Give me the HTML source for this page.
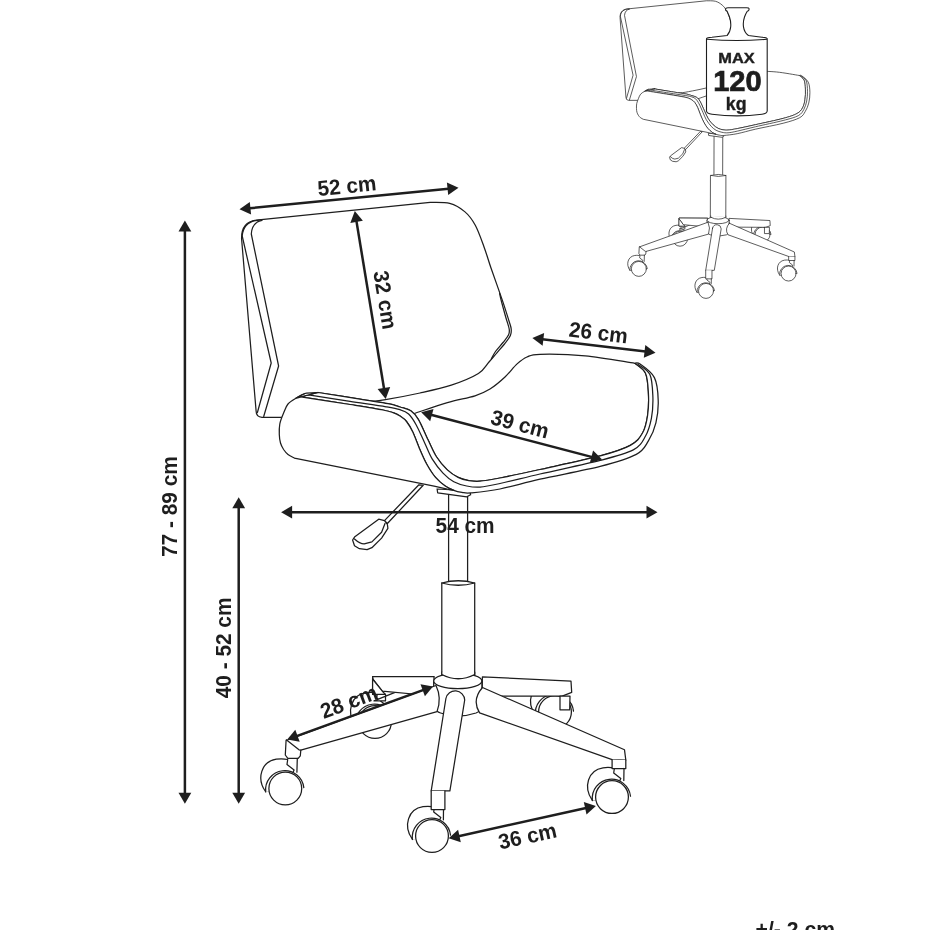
<!DOCTYPE html>
<html><head><meta charset="utf-8"><style>
html,body{margin:0;padding:0;background:#fff;overflow:hidden;}
svg{will-change:transform;}
svg{display:block;}
text{font-family:"Liberation Sans",sans-serif;font-weight:bold;fill:#1e1e1e;}
</style></head><body>
<svg width="930" height="930" viewBox="0 0 930 930">
<rect width="930" height="930" fill="#fff"/>
<g fill="#fff" stroke="#1e1e1e" stroke-width="1.25" stroke-linejoin="round" stroke-linecap="round">
<g transform="translate(375,722)"><path d="M -19.8,3 C -29,-10 -24,-27 -9,-29.3 C -4,-30 0,-29.5 2.4,-29 L 1.7,-24.1 L 8.8,-18.6 L 0,0 Z"/><path d="M -19.6,3.5 A 18.2 18.2 0 0 1 18.5,-0.9"/><circle cx="0" cy="0" r="16.4"/></g>
<g transform="translate(555,712)"><path d="M -19.8,3 C -29,-10 -24,-27 -9,-29.3 C -4,-30 0,-29.5 2.4,-29 L 1.7,-24.1 L 8.8,-18.6 L 0,0 Z"/><path d="M -19.6,3.5 A 18.2 18.2 0 0 1 18.5,-0.9"/><circle cx="0" cy="0" r="16.4"/></g>
<path d="M 434,676.7 L 372.6,676.7 L 372.6,694.4 L 385.5,694.4 L 385.5,700.9 L 374,700.9 Z" fill="#fff"/>
<path d="M 434,676.7 L 372.6,676.7 L 373.1,679.4 L 382.3,691.2 L 434,696 Z" fill="#fff"/>
<path d="M 372.6,679 L 372.6,694.4 L 385.5,694.4 L 382.3,691.2 Z" fill="#fff"/>
<path d="M 482.4,676.9 L 571,681.2 L 571.7,692.4 L 562.2,696.1 L 482,696 Z" fill="#fff"/>
<path d="M 560,696 L 570,696 L 569.7,709.8 L 560,709.8 Z" fill="#fff"/>
<path d="M 448.6,470 L 448.6,584 L 467.6,584 L 467.6,470 Z" fill="#fff"/>
<path d="M 441.8,583 Q 458.2,578.5 474.7,583 L 474.7,676 L 441.8,676 Z" fill="#fff"/>
<path d="M 441.7,583 Q 458.2,587.5 474.7,583" fill="#fff"/>
<path d="M 433.7,681 L 433.7,706 Q 436,712 440.6,713 Q 458,719 476,713 Q 481,711 481.9,706 L 481.9,681 Z" fill="#fff"/>
<ellipse cx="457.8" cy="681" rx="24.1" ry="7.7"/>
<path d="M 441.8,672 L 441.8,674.5 Q 458.2,683 474.7,674.5 L 474.7,672" fill="#fff"/>
<g transform="translate(285.3,788.5)"><path d="M -19.8,3 C -29,-10 -24,-27 -9,-29.3 C -4,-30 0,-29.5 2.4,-29 L 1.7,-24.1 L 8.8,-18.6 L 0,0 Z"/><path d="M -19.6,3.5 A 18.2 18.2 0 0 1 18.5,-0.9"/><circle cx="0" cy="0" r="16.4"/></g>
<path d="M 436,685.5 L 287.4,740 L 286.1,740 L 285.3,755 L 287.8,758.4 L 298.2,758.4 L 300.3,755.8 L 300.8,750.2 L 437,711.6 Q 442,698 436,685.5 Z" fill="#fff"/>
<path d="M 286.6,740 L 299,749.8 L 300.8,750.2" fill="none"/>
<path d="M 297.3,758.4 L 296.9,772.2" fill="none"/>
<g transform="translate(612,797.1)"><path d="M -19.8,3 C -29,-10 -24,-27 -9,-29.3 C -4,-30 0,-29.5 2.4,-29 L 1.7,-24.1 L 8.8,-18.6 L 0,0 Z"/><path d="M -19.6,3.5 A 18.2 18.2 0 0 1 18.5,-0.9"/><circle cx="0" cy="0" r="16.4"/></g>
<path d="M 482.5,687.5 L 624.5,749.8 L 625.8,760 L 612.1,759.7 L 479.6,712.8 Q 471.5,700 482.5,687.5 Z" fill="#fff"/>
<path d="M 612.1,759.7 L 612.1,768.5 L 625.8,768.5 L 625.8,760" fill="#fff"/>
<path d="M 624,768.5 L 623.8,780.5" fill="none"/>
<g transform="translate(432,836)"><path d="M -19.8,3 C -29,-10 -24,-27 -9,-29.3 C -4,-30 0,-29.5 2.4,-29 L 1.7,-24.1 L 8.8,-18.6 L 0,0 Z"/><path d="M -19.6,3.5 A 18.2 18.2 0 0 1 18.5,-0.9"/><circle cx="0" cy="0" r="16.4"/></g>
<path d="M 445.9,698.5 L 431.2,790.9 L 449.9,790.9 L 464.7,700 A 9.5 9.5 0 0 0 445.9,698.5 Z" fill="#fff"/>
<path d="M 431.2,790.9 L 431.2,809.6 L 444.9,809.6 L 444.9,790.9" fill="#fff"/>
<path d="M 443.5,809.6 L 443.4,819.8" fill="none"/>
<path d="M 418.9,484.8 L 384.5,520.6 L 387.4,523.5 L 423.2,485.3 Z" fill="#fff"/>
<path d="M 384.5,520.6 L 378.7,519.2 L 354.5,537.1 L 352.6,540 L 354.5,545.8 L 359.4,548.7 L 367.1,549.7 L 371.9,547.7 L 381.6,538.1 L 387.9,528.4 L 387.4,524.5 Z" fill="#fff"/>
<path d="M 354.5,539 Q 360,544 364.2,543.9 L 371.9,541.9 L 381.6,532.3 L 385,523.5" fill="none"/>
<path d="M 437.1,489 L 437.7,492.9 L 466.8,496.8 L 470.6,494.8 L 470,491 Z" fill="#fff"/>
<path d="M 370,401.6 L 300,410 L 282.4,417.3 L 262,417.3 Q 256.2,417 256.1,411 L 241.6,239 C 241.3,228 246,221.5 256.3,220.2 L 430.1,202.3 C 433.4,202.5 443.9,201.8 449.7,203.3 C 455.5,204.9 460.4,207.9 464.7,211.6 C 469.0,215.2 472.0,219.2 475.3,225.2 C 478.6,231.2 481.7,240.6 484.3,247.7 C 486.9,254.8 488.0,259.3 491.0,268.0 C 494.0,276.7 499.3,291.3 502.3,300.1 C 505.3,308.9 507.5,316.2 509.0,321.0 C 510.5,325.8 511.0,326.6 511.2,329.0 C 511.4,331.4 511.5,333.0 510.4,335.5 C 509.3,338.0 506.8,341.1 504.5,344.0 C 502.2,346.9 499.5,349.8 496.9,352.8 C 494.3,355.8 492.1,358.6 489.0,362.0 C 485.9,365.4 484.7,369.6 478.4,373.5 C 472.1,377.4 461.0,381.9 451.3,385.2 C 441.6,388.4 431.0,390.6 420.0,393.0 C 409.0,395.4 393.8,398.3 385.5,399.7 C 377.2,401.1 372.6,401.3 370.0,401.6 Z" fill="#fff"/>
<path d="M 261,219.8 C 249,220.5 243,226 242.2,236 L 271.2,363 L 257.4,412.5" fill="none"/>
<path d="M 262,220.4 C 256,221.5 251.8,226 251.3,234 L 278.6,366 L 263.7,416.5" fill="none"/>
<path d="M 499.6,293.5 C 499.9,294.9 500.5,297.9 501.6,302.0 C 502.7,306.1 504.7,313.5 506.0,318.0 C 507.3,322.5 508.8,326.2 509.2,329.0 C 509.6,331.8 509.6,332.6 508.6,334.8 C 507.6,337.1 505.2,339.7 503.0,342.5 C 500.8,345.3 497.4,348.8 495.5,351.5 C 493.6,354.2 492.0,357.8 491.3,359.0 " fill="none"/>
<path d="M 414.0,413.6 C 419.6,411.8 437.2,405.6 447.4,402.6 C 457.6,399.6 467.9,398.1 475.0,395.8 C 482.1,393.5 485.0,392.1 490.0,389.0 C 495.0,385.9 500.5,381.2 505.0,377.0 C 509.5,372.8 513.4,367.2 517.1,363.9 C 520.8,360.6 523.2,358.6 527.0,357.0 C 530.8,355.4 530.3,354.5 540.0,354.3 C 549.7,354.1 569.4,354.3 585.2,355.8 C 601.0,357.3 626.5,362.1 634.8,363.3  C 636.6,364.9 643.1,368.2 645.4,373.1 C 647.7,378.0 648.0,385.7 648.4,392.7 C 648.8,399.7 648.6,408.5 647.6,415.3 C 646.6,422.1 645.3,428.3 642.4,433.3 C 639.5,438.3 637.3,441.6 630.3,445.4 C 623.3,449.2 615.2,451.9 600.2,455.9 C 585.2,459.9 556.7,465.8 540.0,469.5 C 523.3,473.2 510.0,476.1 500.0,478.0 C 490.0,479.9 485.2,480.8 480.0,481.2 C 474.8,481.6 472.4,481.2 468.8,480.6 C 465.2,480.0 461.7,479.2 458.1,477.4 C 454.5,475.6 450.9,473.3 447.3,469.9 C 443.7,466.5 439.8,462.0 436.6,457.0 C 433.4,452.0 431.1,446.1 428.0,439.8 C 424.9,433.5 421.2,424.2 418.3,419.4 C 415.4,414.6 413.9,412.9 410.8,410.8 C 407.8,408.7 403.8,408.2 400.0,407.0 C 396.2,405.8 394.7,404.9 388.0,403.6 C 381.3,402.3 371.7,401.1 360.0,399.2 C 348.3,397.3 325.0,393.6 318.0,392.5  Z" fill="#fff"/>
<path d="M 318.0,392.5 C 325.0,393.6 348.3,397.3 360.0,399.2 C 371.7,401.1 381.3,402.3 388.0,403.6 C 394.7,404.9 396.2,405.8 400.0,407.0 C 403.8,408.2 407.8,408.7 410.8,410.8 C 413.9,412.9 415.4,414.6 418.3,419.4 C 421.2,424.2 424.9,433.5 428.0,439.8 C 431.1,446.1 433.4,452.0 436.6,457.0 C 439.8,462.0 443.7,466.5 447.3,469.9 C 450.9,473.3 454.5,475.6 458.1,477.4 C 461.7,479.2 465.2,480.0 468.8,480.6 C 472.4,481.2 474.8,481.6 480.0,481.2 C 485.2,480.8 490.0,479.9 500.0,478.0 C 510.0,476.1 523.3,473.2 540.0,469.5 C 556.7,465.8 585.2,459.9 600.2,455.9 C 615.2,451.9 623.3,449.2 630.3,445.4 C 637.3,441.6 639.5,438.3 642.4,433.3 C 645.3,428.3 646.6,422.1 647.6,415.3 C 648.6,408.5 648.8,399.7 648.4,392.7 C 648.0,385.7 647.7,378.0 645.4,373.1 C 643.1,368.2 636.6,364.9 634.8,363.3  L 634.8,363.3 C 635.7,363.4 636.8,361.7 640.1,364.1 C 643.4,366.5 651.4,371.6 654.4,377.6 C 657.4,383.6 658.0,392.7 658.2,400.2 C 658.5,407.7 657.5,416.0 655.9,422.8 C 654.3,429.6 651.7,435.6 648.4,440.9 C 645.1,446.2 644.3,450.1 636.3,454.4 C 628.3,458.6 616.2,462.3 600.2,466.4 C 584.2,470.5 556.7,475.4 540.0,479.2 C 523.3,483.0 511.6,486.7 500.0,489.0 C 488.4,491.3 476.9,492.3 470.6,492.9 C 464.3,493.4 464.8,492.7 462.0,492.3 C 459.2,491.9 456.6,491.4 453.8,490.3 C 451.0,489.2 448.2,488.1 445.2,486.0 C 442.1,483.9 438.6,481.0 435.5,477.4 C 432.4,473.8 429.6,469.3 426.9,464.5 C 424.2,459.7 421.7,453.8 419.4,448.4 C 417.1,443.0 415.0,436.8 412.9,432.3 C 410.8,427.8 408.6,424.2 406.5,421.5 C 404.4,418.8 402.2,417.6 400.0,416.1 C 397.8,414.6 395.8,413.6 393.0,412.6 C 390.2,411.6 390.2,411.4 383.0,410.0 C 375.8,408.6 363.7,406.7 350.0,404.5 C 336.3,402.3 309.0,398.1 300.8,396.8  Z" fill="#fff"/>
<path d="M 307.0,394.7 C 314.2,395.8 336.8,399.4 350.0,401.4 C 363.2,403.4 377.7,405.4 386.0,406.8 C 394.3,408.2 396.2,408.5 400.0,409.7 C 403.8,410.9 405.9,411.5 408.6,414.0 C 411.3,416.5 413.4,419.9 416.1,424.7 C 418.8,429.5 422.0,437.3 424.7,443.0 C 427.4,448.7 429.2,454.1 432.3,459.1 C 435.4,464.1 439.4,469.3 443.0,473.1 C 446.6,476.9 449.9,479.6 453.8,481.7 C 457.8,483.8 462.3,485.1 466.7,486.0 C 471.1,486.9 474.4,487.5 480.0,487.1 C 485.6,486.7 490.0,485.7 500.0,483.5 C 510.0,481.3 523.3,477.9 540.0,474.0 C 556.7,470.1 584.7,464.4 600.2,460.4 C 615.8,456.4 625.8,453.9 633.3,449.9 C 640.8,445.9 642.4,441.6 645.4,436.3 C 648.4,431.0 650.1,424.8 651.4,418.3 C 652.6,411.8 653.1,404.5 652.9,397.2 C 652.6,389.9 652.4,380.1 649.9,374.6 C 647.4,369.1 639.8,365.9 637.8,364.1 " fill="none"/>
<path d="M 318.0,392.5 C 315.8,392.7 308.6,392.6 305.0,393.5 C 301.4,394.4 299.3,396.1 296.5,397.9 C 293.7,399.6 290.1,401.5 288.0,404.0 C 285.9,406.5 285.0,409.7 283.6,413.0 C 282.2,416.3 280.5,420.4 279.8,424.0 C 279.1,427.6 279.2,431.3 279.3,434.5 C 279.4,437.7 279.8,440.5 280.5,443.0 C 281.2,445.5 282.4,447.6 283.6,449.5 C 284.9,451.4 286.2,453.1 288.0,454.5 C 289.8,455.9 293.3,457.5 294.4,458.1  L 434.1,486.1 L 447.3,489.2 L 453.8,490.3 C 452.4,489.6 448.2,488.1 445.2,486.0 C 442.1,483.9 438.6,481.0 435.5,477.4 C 432.4,473.8 429.6,469.3 426.9,464.5 C 424.2,459.7 421.7,453.8 419.4,448.4 C 417.1,443.0 415.0,436.8 412.9,432.3 C 410.8,427.8 408.6,424.2 406.5,421.5 C 404.4,418.8 402.2,417.6 400.0,416.1 C 397.8,414.6 395.8,413.6 393.0,412.6 C 390.2,411.6 390.2,411.4 383.0,410.0 C 375.8,408.6 363.7,406.7 350.0,404.5 C 336.3,402.3 309.0,398.1 300.8,396.8  Z" fill="#fff"/>
<path d="M 305.0,393.5 C 303.6,394.2 297.2,397.3 296.5,397.9 C 295.8,398.4 300.1,397.0 300.8,396.8 " fill="none"/>
</g>
<g fill="#fff" stroke="#222" stroke-width="1.6" stroke-linejoin="round" stroke-linecap="round" transform="matrix(0.45831,0.002257,-0.00125,0.45655,509.08,-91.746)">
<g transform="translate(375,722)"><path d="M -19.8,3 C -29,-10 -24,-27 -9,-29.3 C -4,-30 0,-29.5 2.4,-29 L 1.7,-24.1 L 8.8,-18.6 L 0,0 Z"/><path d="M -19.6,3.5 A 18.2 18.2 0 0 1 18.5,-0.9"/><circle cx="0" cy="0" r="16.4"/></g>
<g transform="translate(555,712)"><path d="M -19.8,3 C -29,-10 -24,-27 -9,-29.3 C -4,-30 0,-29.5 2.4,-29 L 1.7,-24.1 L 8.8,-18.6 L 0,0 Z"/><path d="M -19.6,3.5 A 18.2 18.2 0 0 1 18.5,-0.9"/><circle cx="0" cy="0" r="16.4"/></g>
<path d="M 434,676.7 L 372.6,676.7 L 372.6,694.4 L 385.5,694.4 L 385.5,700.9 L 374,700.9 Z" fill="#fff"/>
<path d="M 434,676.7 L 372.6,676.7 L 373.1,679.4 L 382.3,691.2 L 434,696 Z" fill="#fff"/>
<path d="M 372.6,679 L 372.6,694.4 L 385.5,694.4 L 382.3,691.2 Z" fill="#fff"/>
<path d="M 482.4,676.9 L 571,681.2 L 571.7,692.4 L 562.2,696.1 L 482,696 Z" fill="#fff"/>
<path d="M 560,696 L 570,696 L 569.7,709.8 L 560,709.8 Z" fill="#fff"/>
<path d="M 448.6,470 L 448.6,584 L 467.6,584 L 467.6,470 Z" fill="#fff"/>
<path d="M 441.8,583 Q 458.2,578.5 474.7,583 L 474.7,676 L 441.8,676 Z" fill="#fff"/>
<path d="M 441.7,583 Q 458.2,587.5 474.7,583" fill="#fff"/>
<path d="M 433.7,681 L 433.7,706 Q 436,712 440.6,713 Q 458,719 476,713 Q 481,711 481.9,706 L 481.9,681 Z" fill="#fff"/>
<ellipse cx="457.8" cy="681" rx="24.1" ry="7.7"/>
<path d="M 441.8,672 L 441.8,674.5 Q 458.2,683 474.7,674.5 L 474.7,672" fill="#fff"/>
<g transform="translate(285.3,788.5)"><path d="M -19.8,3 C -29,-10 -24,-27 -9,-29.3 C -4,-30 0,-29.5 2.4,-29 L 1.7,-24.1 L 8.8,-18.6 L 0,0 Z"/><path d="M -19.6,3.5 A 18.2 18.2 0 0 1 18.5,-0.9"/><circle cx="0" cy="0" r="16.4"/></g>
<path d="M 436,685.5 L 287.4,740 L 286.1,740 L 285.3,755 L 287.8,758.4 L 298.2,758.4 L 300.3,755.8 L 300.8,750.2 L 437,711.6 Q 442,698 436,685.5 Z" fill="#fff"/>
<path d="M 286.6,740 L 299,749.8 L 300.8,750.2" fill="none"/>
<path d="M 297.3,758.4 L 296.9,772.2" fill="none"/>
<g transform="translate(612,797.1)"><path d="M -19.8,3 C -29,-10 -24,-27 -9,-29.3 C -4,-30 0,-29.5 2.4,-29 L 1.7,-24.1 L 8.8,-18.6 L 0,0 Z"/><path d="M -19.6,3.5 A 18.2 18.2 0 0 1 18.5,-0.9"/><circle cx="0" cy="0" r="16.4"/></g>
<path d="M 482.5,687.5 L 624.5,749.8 L 625.8,760 L 612.1,759.7 L 479.6,712.8 Q 471.5,700 482.5,687.5 Z" fill="#fff"/>
<path d="M 612.1,759.7 L 612.1,768.5 L 625.8,768.5 L 625.8,760" fill="#fff"/>
<path d="M 624,768.5 L 623.8,780.5" fill="none"/>
<g transform="translate(432,836)"><path d="M -19.8,3 C -29,-10 -24,-27 -9,-29.3 C -4,-30 0,-29.5 2.4,-29 L 1.7,-24.1 L 8.8,-18.6 L 0,0 Z"/><path d="M -19.6,3.5 A 18.2 18.2 0 0 1 18.5,-0.9"/><circle cx="0" cy="0" r="16.4"/></g>
<path d="M 445.9,698.5 L 431.2,790.9 L 449.9,790.9 L 464.7,700 A 9.5 9.5 0 0 0 445.9,698.5 Z" fill="#fff"/>
<path d="M 431.2,790.9 L 431.2,809.6 L 444.9,809.6 L 444.9,790.9" fill="#fff"/>
<path d="M 443.5,809.6 L 443.4,819.8" fill="none"/>
</g>
<g fill="#fff" stroke="#222" stroke-width="1.6" stroke-linejoin="round" stroke-linecap="round" transform="matrix(0.45732,0.000432,-0.00423,0.46351,510.58,-93.18)">
<path d="M 418.9,484.8 L 384.5,520.6 L 387.4,523.5 L 423.2,485.3 Z" fill="#fff"/>
<path d="M 384.5,520.6 L 378.7,519.2 L 354.5,537.1 L 352.6,540 L 354.5,545.8 L 359.4,548.7 L 367.1,549.7 L 371.9,547.7 L 381.6,538.1 L 387.9,528.4 L 387.4,524.5 Z" fill="#fff"/>
<path d="M 354.5,539 Q 360,544 364.2,543.9 L 371.9,541.9 L 381.6,532.3 L 385,523.5" fill="none"/>
<path d="M 437.1,489 L 437.7,492.9 L 466.8,496.8 L 470.6,494.8 L 470,491 Z" fill="#fff"/>
<path d="M 370,401.6 L 300,410 L 282.4,417.3 L 262,417.3 Q 256.2,417 256.1,411 L 241.6,239 C 241.3,228 246,221.5 256.3,220.2 L 430.1,202.3 C 433.4,202.5 443.9,201.8 449.7,203.3 C 455.5,204.9 460.4,207.9 464.7,211.6 C 469.0,215.2 472.0,219.2 475.3,225.2 C 478.6,231.2 481.7,240.6 484.3,247.7 C 486.9,254.8 488.0,259.3 491.0,268.0 C 494.0,276.7 499.3,291.3 502.3,300.1 C 505.3,308.9 507.5,316.2 509.0,321.0 C 510.5,325.8 511.0,326.6 511.2,329.0 C 511.4,331.4 511.5,333.0 510.4,335.5 C 509.3,338.0 506.8,341.1 504.5,344.0 C 502.2,346.9 499.5,349.8 496.9,352.8 C 494.3,355.8 492.1,358.6 489.0,362.0 C 485.9,365.4 484.7,369.6 478.4,373.5 C 472.1,377.4 461.0,381.9 451.3,385.2 C 441.6,388.4 431.0,390.6 420.0,393.0 C 409.0,395.4 393.8,398.3 385.5,399.7 C 377.2,401.1 372.6,401.3 370.0,401.6 Z" fill="#fff"/>
<path d="M 261,219.8 C 249,220.5 243,226 242.2,236 L 271.2,363 L 257.4,412.5" fill="none"/>
<path d="M 262,220.4 C 256,221.5 251.8,226 251.3,234 L 278.6,366 L 263.7,416.5" fill="none"/>
<path d="M 499.6,293.5 C 499.9,294.9 500.5,297.9 501.6,302.0 C 502.7,306.1 504.7,313.5 506.0,318.0 C 507.3,322.5 508.8,326.2 509.2,329.0 C 509.6,331.8 509.6,332.6 508.6,334.8 C 507.6,337.1 505.2,339.7 503.0,342.5 C 500.8,345.3 497.4,348.8 495.5,351.5 C 493.6,354.2 492.0,357.8 491.3,359.0 " fill="none"/>
<path d="M 414.0,413.6 C 419.6,411.8 437.2,405.6 447.4,402.6 C 457.6,399.6 467.9,398.1 475.0,395.8 C 482.1,393.5 485.0,392.1 490.0,389.0 C 495.0,385.9 500.5,381.2 505.0,377.0 C 509.5,372.8 513.4,367.2 517.1,363.9 C 520.8,360.6 523.2,358.6 527.0,357.0 C 530.8,355.4 530.3,354.5 540.0,354.3 C 549.7,354.1 569.4,354.3 585.2,355.8 C 601.0,357.3 626.5,362.1 634.8,363.3  C 636.6,364.9 643.1,368.2 645.4,373.1 C 647.7,378.0 648.0,385.7 648.4,392.7 C 648.8,399.7 648.6,408.5 647.6,415.3 C 646.6,422.1 645.3,428.3 642.4,433.3 C 639.5,438.3 637.3,441.6 630.3,445.4 C 623.3,449.2 615.2,451.9 600.2,455.9 C 585.2,459.9 556.7,465.8 540.0,469.5 C 523.3,473.2 510.0,476.1 500.0,478.0 C 490.0,479.9 485.2,480.8 480.0,481.2 C 474.8,481.6 472.4,481.2 468.8,480.6 C 465.2,480.0 461.7,479.2 458.1,477.4 C 454.5,475.6 450.9,473.3 447.3,469.9 C 443.7,466.5 439.8,462.0 436.6,457.0 C 433.4,452.0 431.1,446.1 428.0,439.8 C 424.9,433.5 421.2,424.2 418.3,419.4 C 415.4,414.6 413.9,412.9 410.8,410.8 C 407.8,408.7 403.8,408.2 400.0,407.0 C 396.2,405.8 394.7,404.9 388.0,403.6 C 381.3,402.3 371.7,401.1 360.0,399.2 C 348.3,397.3 325.0,393.6 318.0,392.5  Z" fill="#fff"/>
<path d="M 318.0,392.5 C 325.0,393.6 348.3,397.3 360.0,399.2 C 371.7,401.1 381.3,402.3 388.0,403.6 C 394.7,404.9 396.2,405.8 400.0,407.0 C 403.8,408.2 407.8,408.7 410.8,410.8 C 413.9,412.9 415.4,414.6 418.3,419.4 C 421.2,424.2 424.9,433.5 428.0,439.8 C 431.1,446.1 433.4,452.0 436.6,457.0 C 439.8,462.0 443.7,466.5 447.3,469.9 C 450.9,473.3 454.5,475.6 458.1,477.4 C 461.7,479.2 465.2,480.0 468.8,480.6 C 472.4,481.2 474.8,481.6 480.0,481.2 C 485.2,480.8 490.0,479.9 500.0,478.0 C 510.0,476.1 523.3,473.2 540.0,469.5 C 556.7,465.8 585.2,459.9 600.2,455.9 C 615.2,451.9 623.3,449.2 630.3,445.4 C 637.3,441.6 639.5,438.3 642.4,433.3 C 645.3,428.3 646.6,422.1 647.6,415.3 C 648.6,408.5 648.8,399.7 648.4,392.7 C 648.0,385.7 647.7,378.0 645.4,373.1 C 643.1,368.2 636.6,364.9 634.8,363.3  L 634.8,363.3 C 635.7,363.4 636.8,361.7 640.1,364.1 C 643.4,366.5 651.4,371.6 654.4,377.6 C 657.4,383.6 658.0,392.7 658.2,400.2 C 658.5,407.7 657.5,416.0 655.9,422.8 C 654.3,429.6 651.7,435.6 648.4,440.9 C 645.1,446.2 644.3,450.1 636.3,454.4 C 628.3,458.6 616.2,462.3 600.2,466.4 C 584.2,470.5 556.7,475.4 540.0,479.2 C 523.3,483.0 511.6,486.7 500.0,489.0 C 488.4,491.3 476.9,492.3 470.6,492.9 C 464.3,493.4 464.8,492.7 462.0,492.3 C 459.2,491.9 456.6,491.4 453.8,490.3 C 451.0,489.2 448.2,488.1 445.2,486.0 C 442.1,483.9 438.6,481.0 435.5,477.4 C 432.4,473.8 429.6,469.3 426.9,464.5 C 424.2,459.7 421.7,453.8 419.4,448.4 C 417.1,443.0 415.0,436.8 412.9,432.3 C 410.8,427.8 408.6,424.2 406.5,421.5 C 404.4,418.8 402.2,417.6 400.0,416.1 C 397.8,414.6 395.8,413.6 393.0,412.6 C 390.2,411.6 390.2,411.4 383.0,410.0 C 375.8,408.6 363.7,406.7 350.0,404.5 C 336.3,402.3 309.0,398.1 300.8,396.8  Z" fill="#fff"/>
<path d="M 307.0,394.7 C 314.2,395.8 336.8,399.4 350.0,401.4 C 363.2,403.4 377.7,405.4 386.0,406.8 C 394.3,408.2 396.2,408.5 400.0,409.7 C 403.8,410.9 405.9,411.5 408.6,414.0 C 411.3,416.5 413.4,419.9 416.1,424.7 C 418.8,429.5 422.0,437.3 424.7,443.0 C 427.4,448.7 429.2,454.1 432.3,459.1 C 435.4,464.1 439.4,469.3 443.0,473.1 C 446.6,476.9 449.9,479.6 453.8,481.7 C 457.8,483.8 462.3,485.1 466.7,486.0 C 471.1,486.9 474.4,487.5 480.0,487.1 C 485.6,486.7 490.0,485.7 500.0,483.5 C 510.0,481.3 523.3,477.9 540.0,474.0 C 556.7,470.1 584.7,464.4 600.2,460.4 C 615.8,456.4 625.8,453.9 633.3,449.9 C 640.8,445.9 642.4,441.6 645.4,436.3 C 648.4,431.0 650.1,424.8 651.4,418.3 C 652.6,411.8 653.1,404.5 652.9,397.2 C 652.6,389.9 652.4,380.1 649.9,374.6 C 647.4,369.1 639.8,365.9 637.8,364.1 " fill="none"/>
<path d="M 318.0,392.5 C 315.8,392.7 308.6,392.6 305.0,393.5 C 301.4,394.4 299.3,396.1 296.5,397.9 C 293.7,399.6 290.1,401.5 288.0,404.0 C 285.9,406.5 285.0,409.7 283.6,413.0 C 282.2,416.3 280.5,420.4 279.8,424.0 C 279.1,427.6 279.2,431.3 279.3,434.5 C 279.4,437.7 279.8,440.5 280.5,443.0 C 281.2,445.5 282.4,447.6 283.6,449.5 C 284.9,451.4 286.2,453.1 288.0,454.5 C 289.8,455.9 293.3,457.5 294.4,458.1  L 434.1,486.1 L 447.3,489.2 L 453.8,490.3 C 452.4,489.6 448.2,488.1 445.2,486.0 C 442.1,483.9 438.6,481.0 435.5,477.4 C 432.4,473.8 429.6,469.3 426.9,464.5 C 424.2,459.7 421.7,453.8 419.4,448.4 C 417.1,443.0 415.0,436.8 412.9,432.3 C 410.8,427.8 408.6,424.2 406.5,421.5 C 404.4,418.8 402.2,417.6 400.0,416.1 C 397.8,414.6 395.8,413.6 393.0,412.6 C 390.2,411.6 390.2,411.4 383.0,410.0 C 375.8,408.6 363.7,406.7 350.0,404.5 C 336.3,402.3 309.0,398.1 300.8,396.8  Z" fill="#fff"/>
<path d="M 305.0,393.5 C 303.6,394.2 297.2,397.3 296.5,397.9 C 295.8,398.4 300.1,397.0 300.8,396.8 " fill="none"/>
</g>
<g fill="#fff" stroke="#1e1e1e" stroke-width="1.1" stroke-linejoin="round">
<path d="M 706.5,38.7 Q 707,37.4 712,37.2 L 727.1,35.5 C 731.5,31 731.5,23 729.5,17 C 728.5,14 727.5,12.5 727,11 Q 725.5,10.8 725.5,9.2 Q 725.6,7.7 728,7.7 L 746.5,7.7 Q 749.2,7.7 749.1,9.2 Q 749,10.8 747.3,11.2 C 746.5,12.5 745.5,14 744.5,17 C 742.5,23 742.5,31 748.4,35.5 L 762,37.2 Q 767,37.4 767.2,38.7 L 767.2,111 Q 767,113.5 762,114.2 Q 737,117.5 712,114.2 Q 706.7,113.5 706.5,111 Z"/>
<path d="M 706.8,39.2 Q 737,41.8 767,39.2" fill="none"/>
</g>
<text x="736.5" y="63.2" font-size="15.2" text-anchor="middle" textLength="36.5" lengthAdjust="spacingAndGlyphs" stroke="#1e1e1e" stroke-width="0.4">MAX</text>
<text x="737.4" y="91" font-size="29" text-anchor="middle" textLength="48.5" lengthAdjust="spacingAndGlyphs" stroke="#1e1e1e" stroke-width="0.7">120</text>
<text x="736.2" y="109.6" font-size="18.5" text-anchor="middle" textLength="20.7" lengthAdjust="spacingAndGlyphs" stroke="#1e1e1e" stroke-width="0.4">kg</text>
<line x1="249.5" y1="208.3" x2="448.5" y2="188.7" stroke="#1e1e1e" stroke-width="2.5"/><polygon points="239.5,209.3 251.1,214.6 249.8,201.9" fill="#1e1e1e"/><polygon points="458.5,187.7 448.2,195.1 446.9,182.4" fill="#1e1e1e"/>
<text x="0.5" y="7.52" font-size="21.5" text-anchor="middle" transform="translate(346.4,185.7) rotate(-5.63) scale(0.97,1)">52 cm</text>
<line x1="356.4" y1="220.9" x2="384.1" y2="389.0" stroke="#1e1e1e" stroke-width="2.5"/><polygon points="354.8,211.0 350.3,222.9 362.9,220.8" fill="#1e1e1e"/><polygon points="385.7,398.9 377.6,389.1 390.2,387.0" fill="#1e1e1e"/>
<text x="0.5" y="7.52" font-size="21.5" text-anchor="middle" transform="translate(385.4,299.5) rotate(80.50) scale(0.97,1)">32 cm</text>
<line x1="542.3" y1="339.2" x2="645.6" y2="351.6" stroke="#1e1e1e" stroke-width="2.5"/><polygon points="532.4,338.0 542.6,345.7 544.1,333.0" fill="#1e1e1e"/><polygon points="655.5,352.8 643.8,357.8 645.3,345.1" fill="#1e1e1e"/>
<text x="0.5" y="7.52" font-size="21.5" text-anchor="middle" transform="translate(597.9,332.4) rotate(6.87) scale(0.97,1)">26 cm</text>
<line x1="430.9" y1="414.8" x2="592.4" y2="457.1" stroke="#1e1e1e" stroke-width="2.5"/><polygon points="421.2,412.3 430.2,421.3 433.5,408.9" fill="#1e1e1e"/><polygon points="602.1,459.6 589.8,463.0 593.1,450.6" fill="#1e1e1e"/>
<text x="0.5" y="7.52" font-size="21.5" text-anchor="middle" transform="translate(519.6,423.8) rotate(14.65) scale(0.97,1)">39 cm</text>
<line x1="291.1" y1="512.2" x2="647.5" y2="512.2" stroke="#1e1e1e" stroke-width="2.5"/><polygon points="281.1,512.2 292.1,518.6 292.1,505.8" fill="#1e1e1e"/><polygon points="657.5,512.2 646.5,518.6 646.5,505.8" fill="#1e1e1e"/>
<text x="0.5" y="7.52" font-size="21.5" text-anchor="middle" transform="translate(464.6,525.2) rotate(0.00) scale(0.97,1)">54 cm</text>
<line x1="184.9" y1="230.6" x2="184.9" y2="793.7" stroke="#1e1e1e" stroke-width="2.5"/><polygon points="184.9,220.6 178.5,231.6 191.3,231.6" fill="#1e1e1e"/><polygon points="184.9,803.7 178.5,792.7 191.3,792.7" fill="#1e1e1e"/>
<text x="0.5" y="7.52" font-size="21.5" text-anchor="middle" transform="translate(169.4,507.1) rotate(-90.00) scale(0.97,1)">77 - 89 cm</text>
<line x1="238.7" y1="507.2" x2="238.7" y2="793.7" stroke="#1e1e1e" stroke-width="2.5"/><polygon points="238.7,497.2 232.3,508.2 245.1,508.2" fill="#1e1e1e"/><polygon points="238.7,803.7 232.3,792.7 245.1,792.7" fill="#1e1e1e"/>
<text x="0.5" y="7.52" font-size="21.5" text-anchor="middle" transform="translate(223.1,648.4) rotate(-90.00) scale(0.97,1)">40 - 52 cm</text>
<line x1="296.6" y1="736.2" x2="423.6" y2="689.8" stroke="#1e1e1e" stroke-width="2.5"/><polygon points="287.2,739.6 299.7,741.8 295.3,729.8" fill="#1e1e1e"/><polygon points="433.0,686.4 424.9,696.2 420.5,684.2" fill="#1e1e1e"/>
<text x="0.5" y="7.52" font-size="21.5" text-anchor="middle" transform="translate(348.3,701.8) rotate(-20.60) scale(0.97,1)">28 cm</text>
<line x1="458.5" y1="836.2" x2="586.1" y2="808.0" stroke="#1e1e1e" stroke-width="2.5"/><polygon points="448.7,838.3 460.8,842.2 458.1,829.7" fill="#1e1e1e"/><polygon points="595.9,805.9 586.5,814.5 583.8,802.0" fill="#1e1e1e"/>
<text x="0.5" y="7.52" font-size="21.5" text-anchor="middle" transform="translate(527.0,836.0) rotate(-12.40) scale(0.97,1)">36 cm</text>
<text x="795.3" y="937.2" font-size="21.5" text-anchor="middle" transform="translate(795.3,0) scale(0.985,1) translate(-795.3,0)">+/<tspan dy="-1.5">-</tspan><tspan dy="1.5"> 2 cm</tspan></text>
</svg>
</body></html>
